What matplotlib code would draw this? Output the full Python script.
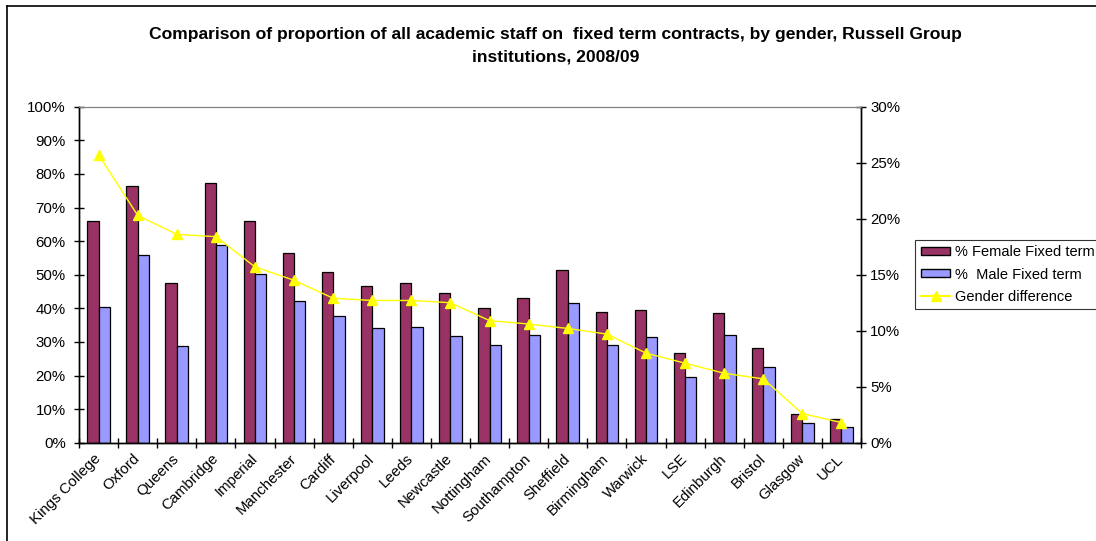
import numpy as np
import matplotlib
matplotlib.use("Agg")
from matplotlib import pyplot as plt
from matplotlib.patches import Patch
from matplotlib.lines import Line2D
from matplotlib.ticker import PercentFormatter
from matplotlib.transforms import ScaledTranslation

institutions = ["Kings College", "Oxford", "Queens", "Cambridge", "Imperial",
                "Manchester", "Cardiff", "Liverpool", "Leeds", "Newcastle",
                "Nottingham", "Southampton", "Sheffield", "Birmingham", "Warwick",
                "LSE", "Edinburgh", "Bristol", "Glasgow", "UCL"]
female_fixed = [66.0, 76.3, 47.4, 77.3, 66.0, 56.4, 50.7, 46.6, 47.4, 44.5,
                40.1, 43.1, 51.4, 38.8, 39.5, 26.8, 38.5, 28.2, 8.5, 7.0]
male_fixed = [40.4, 55.8, 28.8, 58.7, 50.1, 42.2, 37.8, 34.1, 34.4, 31.8,
              29.2, 32.1, 41.5, 29.2, 31.5, 19.5, 32.1, 22.5, 6.0, 4.8]
gender_diff = [25.7, 20.3, 18.6, 18.4, 15.7, 14.5, 12.9, 12.7, 12.7, 12.5,
               10.9, 10.6, 10.2, 9.7, 8.0, 7.1, 6.2, 5.7, 2.6, 1.8]

plt.rcParams["font.family"] = ["Liberation Sans", "DejaVu Sans"]

fig = plt.figure(figsize=(10.96, 5.41), dpi=100)
ax = fig.add_axes([0.0721, 0.1817, 0.7135, 0.621])
ax2 = ax.twinx()

x = np.arange(len(institutions))
w = 0.29
ax.bar(x - w / 2, female_fixed, w, color="#993366", edgecolor="black", linewidth=0.9)
ax.bar(x + w / 2, male_fixed, w, color="#9999FF", edgecolor="black", linewidth=0.9)
ax2.plot(x, gender_diff, color="#FFFF00", marker="^", markersize=7, linewidth=1)

ax.set_xlim(-0.5, len(institutions) - 0.5)
ax.set_ylim(0, 100)
ax2.set_ylim(0, 30)
ax.set_yticks(np.arange(0, 101, 10))
ax2.set_yticks(np.arange(0, 31, 5))
ax.yaxis.set_major_formatter(PercentFormatter(decimals=0))
ax2.yaxis.set_major_formatter(PercentFormatter(decimals=0))

ax.set_xticks(x)
ax.set_xticklabels(institutions, rotation=45, ha="right", va="center",
                   rotation_mode="anchor", fontsize=10.8)
# nudge the rotated labels a little to the left
shift = ScaledTranslation(-3 / 100, 0, fig.dpi_scale_trans)
for lab in ax.get_xticklabels():
    lab.set_transform(lab.get_transform() + shift)
ax.set_xticks(np.arange(-0.5, len(institutions)), minor=True)
ax.tick_params(axis="x", which="major", length=0, pad=10)
ax.tick_params(axis="x", which="minor", direction="inout", length=7, width=1)
ax.tick_params(axis="y", direction="inout", length=7, width=1, labelsize=10.8, pad=6)
ax2.tick_params(axis="y", direction="inout", length=7, width=1, labelsize=10.8, pad=3)

for a in (ax, ax2):
    a.spines["top"].set_color("#808080")
    a.spines["top"].set_linewidth(0.8)
    for s in ("left", "right", "bottom"):
        a.spines[s].set_linewidth(1)

fig.text(0.507, 0.916,
         "Comparison of proportion of all academic staff on  fixed term contracts, by gender, Russell Group\ninstitutions, 2008/09",
         ha="center", va="center", fontsize=12.6, fontweight="bold", linespacing=1.65)

handles = [Patch(facecolor="#993366", edgecolor="black"),
           Patch(facecolor="#9999FF", edgecolor="black"),
           Line2D([], [], color="#FFFF00", marker="^", markersize=7)]
labels = ["% Female Fixed term", "%  Male Fixed term", "Gender difference"]
leg = fig.legend(handles, labels, loc="upper left", bbox_to_anchor=(0.835, 0.557),
                 fontsize=10.5, frameon=True, fancybox=False, borderpad=0.4,
                 handlelength=2.0, handleheight=0.5, handletextpad=0.35,
                 labelspacing=0.55, borderaxespad=0)
leg.get_frame().set_edgecolor("black")
leg.get_frame().set_linewidth(0.8)

# chart border (top and left edges visible)
fig.add_artist(Line2D([0.0064, 1.0], [0.989, 0.989], transform=fig.transFigure,
                      color="black", linewidth=1.2))
fig.add_artist(Line2D([0.0064, 0.0064], [0.0, 0.989], transform=fig.transFigure,
                      color="black", linewidth=1.2))

fig.savefig("out.png", dpi=100)
